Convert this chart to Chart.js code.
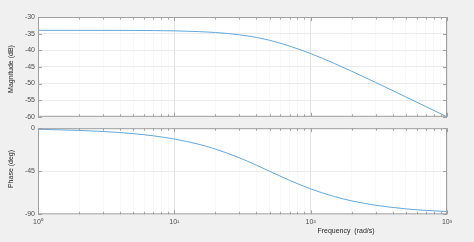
<!DOCTYPE html>
<html>
<head>
    <title>Bode Diagram</title>
    <script src="https://cdn.jsdelivr.net/npm/chart.js"></script>
    <style>
        body { margin: 0; background: #f0f0f0; }
        #wrap { position: relative; width: 474px; height: 242px; overflow: hidden; }
        canvas { position: absolute; left: 0; }
        #magChart { top: 0; }
        #phaseChart { top: 121px; }
    </style>
</head>
<body>
    <div id="wrap">
        <canvas id="magChart" width="474" height="124"></canvas>
        <canvas id="phaseChart" width="474" height="121"></canvas>
    </div>

    <script>
        // frequency points (rad/s) and values
        const freq = [1, 2, 3, 5, 7, 10, 15, 20, 30, 40, 50, 70, 100, 150, 200, 300, 500, 700, 1000];
        const magnitude = [-34.0, -34.01, -34.02, -34.04, -34.08, -34.17, -34.38, -34.65, -35.34, -36.15,
                           -37.0, -38.74, -40.99, -44.0, -46.3, -49.68, -54.04, -56.94, -60.0];
        const phase = [-1.15, -2.29, -3.43, -5.71, -7.97, -11.31, -16.7, -21.8, -30.96, -38.66,
                       -45.0, -54.46, -63.43, -71.57, -75.96, -80.54, -84.29, -85.91, -87.14];

        const xTicks = [1, 2, 3, 4, 5, 6, 7, 8, 9, 10, 20, 30, 40, 50, 60, 70, 80, 90,
                        100, 200, 300, 400, 500, 600, 700, 800, 900, 1000];
        const decadeLabels = { 1: '10\u2070', 10: '10\u00b9', 100: '10\u00b2', 1000: '10\u00b3' };
        const magTicks = [-30, -35, -40, -45, -50, -55, -60];
        const phaseTicks = [0, -45, -90];

        const lineColor = '#62a8de';
        const font = { family: 'Liberation Sans, Arial', size: 7 };

        function isDecade(v) {
            return decadeLabels[v] !== undefined;
        }

        // white axes background, box + inward tick marks like matlab axes
        const boxPlugin = {
            id: 'box',
            beforeDraw(chart) {
                const { ctx, chartArea: a } = chart;
                ctx.save();
                ctx.fillStyle = '#ffffff';
                ctx.fillRect(a.left, a.top, a.right - a.left, a.bottom - a.top);
                ctx.restore();
            },
            afterDraw(chart) {
                const { ctx, chartArea: a, scales } = chart;
                ctx.save();
                ctx.strokeStyle = '#a0a0a0';
                ctx.lineWidth = 1;
                ctx.strokeRect(a.left + 0.5, a.top + 0.5, a.right - a.left - 1, a.bottom - a.top - 1);
                ctx.beginPath();
                xTicks.forEach(v => {
                    const x = Math.round(scales.x.getPixelForValue(v)) + 0.5;
                    const len = isDecade(v) ? 4 : 2.5;
                    ctx.moveTo(x, a.bottom); ctx.lineTo(x, a.bottom - len);
                    ctx.moveTo(x, a.top); ctx.lineTo(x, a.top + len);
                });
                scales.y.ticks.forEach(t => {
                    const y = Math.round(scales.y.getPixelForValue(t.value)) + 0.5;
                    ctx.moveTo(a.left, y); ctx.lineTo(a.left + 4, y);
                    ctx.moveTo(a.right, y); ctx.lineTo(a.right - 4, y);
                });
                ctx.stroke();
                ctx.restore();
            }
        };

        const textPlugin = {
            id: 'texts',
            afterDraw(chart, args, opts) {
                const ctx = chart.ctx;
                ctx.save();
                ctx.fillStyle = '#262626';
                ctx.font = '7px "Liberation Sans", Arial';
                (opts.items || []).forEach(it => {
                    ctx.save();
                    ctx.translate(it.x, it.y);
                    if (it.rotate) ctx.rotate(-Math.PI / 2);
                    ctx.textAlign = 'center';
                    ctx.textBaseline = 'middle';
                    ctx.fillText(it.text, 0, 0);
                    ctx.restore();
                });
                ctx.restore();
            }
        };

        function makeChart(id, values, yMin, yMax, yTicks, opts) {
            const ctx = document.getElementById(id).getContext('2d');
            return new Chart(ctx, {
                type: 'line',
                data: {
                    datasets: [{
                        data: freq.map((f, i) => ({ x: f, y: values[i] })),
                        borderColor: lineColor,
                        borderWidth: 1,
                        pointRadius: 0,
                        cubicInterpolationMode: 'monotone',
                        fill: false
                    }]
                },
                options: {
                    responsive: false,
                    animation: false,
                    layout: { padding: opts.padding },
                    plugins: {
                        legend: { display: false },
                        tooltip: { enabled: false },
                        texts: { items: opts.texts }
                    },
                    scales: {
                        x: {
                            type: 'logarithmic',
                            min: 1,
                            max: 1000,
                            border: { display: false },
                            grid: {
                                color: c => isDecade(c.tick.value) ? '#e3e3e3' : '#f8f8f8',
                                drawTicks: false
                            },
                            afterBuildTicks: s => { s.ticks = xTicks.map(v => ({ value: v })); },
                            ticks: {
                                display: opts.showX,
                                autoSkip: false,
                                maxRotation: 0,
                                padding: 4,
                                color: '#4d4d4d',
                                font: font,
                                callback: v => decadeLabels[v] || ''
                            },
                            afterFit: s => { s.height = opts.xHeight; }
                        },
                        y: {
                            min: yMin,
                            max: yMax,
                            border: { display: false },
                            grid: { color: '#ebebeb', drawTicks: false },
                            afterBuildTicks: s => { s.ticks = yTicks.map(v => ({ value: v })); },
                            ticks: {
                                padding: 3,
                                color: '#4d4d4d',
                                font: font
                            },
                            afterFit: s => { s.width = 38; }
                        }
                    }
                },
                plugins: [boxPlugin, textPlugin]
            });
        }

        makeChart('magChart', magnitude, -60, -30, magTicks, {
            padding: { top: 17, right: 27, bottom: 3, left: 0 },
            showX: false,
            xHeight: 0,
            texts: [{ text: 'Magnitude (dB)', x: 11, y: 69, rotate: true }]
        });

        makeChart('phaseChart', phase, -90, 0, phaseTicks, {
            padding: { top: 3.5, right: 27, bottom: 0, left: 0 },
            showX: true,
            xHeight: 27.7,
            texts: [
                { text: 'Phase (deg)', x: 11, y: 48, rotate: true },
                { text: 'Frequency  (rad/s)', x: 346, y: 110 }
            ]
        });
    </script>
</body>
</html>
